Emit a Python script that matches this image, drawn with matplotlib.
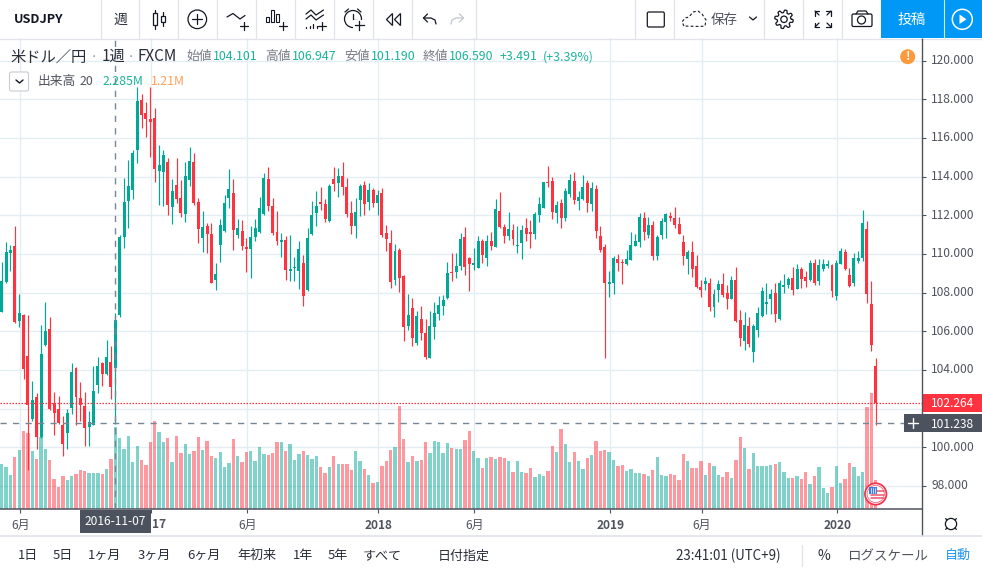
import numpy as np
import matplotlib
matplotlib.use('Agg')
import matplotlib.pyplot as plt
from matplotlib.patches import Rectangle, Circle, Polygon, FancyBboxPatch

plt.rcParams['font.family'] = ['Noto Sans CJK JP', 'DejaVu Sans']

opens = [107.02,108.57,110.07,110.41,106.55,106.85,104.72,101.45,102.62,100.55,
 105.3,106.12,102.28,101.98,101.16,100.76,102.05,104.1,102.55,102.14,
 101.02,101.17,103.24,104.36,103.79,104.41,104.101,106.85,110.9,112.76,
 113.28,115.4,117.97,117.29,116.97,117.03,114.31,114.26,114.76,112.45,
 113.57,112.9,112.07,113.83,114.76,112.69,110.83,111.45,111.03,108.66,
 110.47,111.19,112.9,113.16,110.98,111.19,110.36,110.26,110.88,111.14,
 112.07,113.88,112.48,111.14,110.62,110.72,109.12,109.28,109.12,109.53,
 108.14,111.02,112.12,112.67,112.57,111.69,113.86,113.66,114.02,113.45,
 112.1,111.43,112.78,113.55,112.67,113.29,112.62,113.14,111.07,110.55,
 108.64,110.19,108.84,106.26,107.19,105.38,106.62,105.9,104.6,106.21,
 106.88,107.29,107.71,109.05,109.05,109.36,110.86,109.78,109.41,109.26,
 110.66,109.78,110.66,110.34,112.21,111.38,110.91,111.22,110.4,110.55,
 111.33,111.12,111.02,112.0,112.36,113.71,113.76,112.1,112.62,111.84,
 113.09,113.76,112.72,112.83,113.66,112.57,113.34,110.91,110.34,108.43,
 108.48,109.72,109.57,109.47,109.67,110.4,110.6,111.84,110.97,111.5,
 109.9,110.98,111.66,111.97,111.86,111.55,110.62,109.74,110.1,109.38,
 108.29,108.45,108.5,107.26,108.14,108.45,107.98,107.67,108.66,106.59,
 105.5,106.28,104.93,106.07,106.79,107.41,107.67,107.98,106.64,108.29,
 108.4,108.76,108.19,109.22,108.81,108.66,109.53,108.62,109.22,109.36,
 109.43,107.83,109.5,110.09,108.91,108.47,109.64,109.81,111.29,107.41,
 104.21]

highs = [109.6,110.6,110.47,111.45,107.93,106.9,106.85,103.43,102.8,106.33,
 107.52,106.74,102.86,102.66,101.62,101.98,104.34,104.16,103.38,102.83,
 101.88,104.22,104.67,104.43,105.55,105.26,106.947,110.98,113.93,114.86,
 115.38,118.65,118.28,117.86,118.64,117.55,115.64,115.38,114.95,113.88,
 114.97,113.83,114.76,115.53,115.22,112.9,112.22,111.6,111.6,109.53,
 111.81,113.05,114.4,113.88,111.81,111.76,110.83,111.45,111.81,112.95,
 114.19,114.5,112.9,112.22,111.09,110.93,110.98,109.84,110.67,109.95,
 111.34,112.72,113.24,113.45,112.83,113.6,114.48,114.43,114.74,113.91,
 112.72,112.88,113.6,113.76,113.66,113.4,113.29,113.4,111.48,111.22,
 110.5,110.29,108.9,107.91,107.71,107.03,107.29,106.62,107.03,107.5,
 107.81,107.86,109.57,110.03,110.03,111.07,111.38,109.83,110.29,110.91,
 110.76,110.97,111.12,112.83,113.19,111.53,112.16,111.53,111.43,111.48,
 111.84,111.74,112.16,112.93,113.71,114.53,113.97,112.72,112.83,113.4,
 114.12,114.22,113.24,114.07,113.81,113.71,113.55,111.43,110.5,109.1,
 109.88,109.98,109.72,110.19,111.12,111.02,112.1,112.16,111.9,111.71,
 110.98,111.86,112.12,112.17,112.43,111.91,110.98,110.21,110.67,109.95,
 108.66,108.81,108.76,108.19,108.66,109.02,108.4,108.86,109.33,107.1,
 107.0,106.74,106.35,107.26,108.29,108.5,108.19,108.5,108.66,108.97,
 108.81,109.33,109.48,109.33,109.12,109.69,109.74,109.74,109.72,109.67,
 109.48,109.69,110.31,110.26,109.28,110.03,110.16,112.28,111.71,108.6,
 104.6]

lows = [107.0,108.48,109.09,106.45,106.24,103.53,98.8,101.34,99.9,100.47,
 105.24,101.93,100.64,101.2,99.52,99.93,101.72,101.17,101.36,100.07,
 100.07,101.17,102.81,103.17,103.74,102.5,101.19,106.71,110.28,111.34,
 112.86,114.72,116.53,116.07,115.03,113.74,112.55,112.48,112.02,111.57,
 112.62,111.93,111.67,113.52,112.53,110.57,110.1,110.05,108.52,108.14,
 109.59,111.14,112.38,110.2,110.83,110.2,109.07,108.76,110.67,111.09,
 112.02,112.22,110.98,110.45,109.84,108.66,108.6,108.6,108.19,107.28,
 108.09,110.97,111.43,112.26,111.64,111.64,113.24,112.93,113.03,111.9,
 111.02,110.81,111.95,112.0,112.26,112.41,112.0,110.88,110.14,108.22,
 108.38,108.02,105.48,106.05,105.22,105.28,105.53,104.55,104.6,105.59,
 106.57,106.83,107.66,108.59,108.74,109.16,108.9,108.07,109.16,109.26,
 109.52,109.36,110.19,110.34,111.33,110.55,110.71,110.45,110.03,109.72,
 110.66,110.29,110.76,111.64,112.36,113.45,111.79,111.59,111.33,111.69,
 112.93,112.57,112.26,112.78,112.16,112.21,110.81,110.09,104.6,107.76,
 107.91,109.1,108.43,109.41,109.67,110.4,110.34,110.71,110.81,109.69,
 109.69,110.78,110.83,111.71,111.34,111.03,109.43,108.97,108.81,108.24,
 107.78,108.14,107.05,106.74,107.52,107.78,107.16,107.67,106.48,105.24,
 105.03,105.19,104.41,105.7,106.74,106.9,106.9,106.48,106.59,107.98,
 108.24,107.88,108.19,108.24,108.29,108.6,108.4,108.4,109.12,109.28,
 107.79,107.62,109.48,109.17,108.29,108.34,109.55,109.64,107.47,104.98,
 101.16]

closes = [108.6,110.1,110.2,106.5,106.93,104.05,102.16,102.45,100.55,104.83,
 106.02,101.97,101.79,101.24,100.19,101.78,103.9,102.62,102.2,100.97,
 101.31,102.91,104.2,103.81,104.67,103.09,106.59,110.86,112.7,113.52,
 115.21,117.91,117.19,117.0,116.84,114.41,114.6,115.12,112.52,113.26,
 112.84,112.14,114.03,114.81,112.62,111.29,111.4,111.03,108.52,108.97,
 111.5,112.64,113.36,111.24,111.34,110.41,110.26,110.88,111.34,112.38,
 113.93,112.48,111.09,110.67,110.72,109.17,109.22,109.33,110.26,107.83,
 110.83,112.0,112.47,112.57,111.79,113.5,113.6,114.02,113.45,112.05,
 111.43,112.16,113.5,112.57,113.29,112.62,113.03,110.97,110.76,108.53,
 110.14,108.74,106.21,106.83,105.64,106.78,105.9,104.66,106.26,106.93,
 107.34,107.6,109.0,109.0,109.36,110.76,109.31,109.47,109.52,110.66,
 109.93,110.66,110.4,112.31,111.38,110.91,111.28,110.76,110.45,111.22,
 111.02,111.02,112.05,112.57,113.71,113.66,112.16,112.52,111.84,113.24,
 113.81,112.78,112.93,113.45,112.62,113.4,111.17,110.19,108.48,108.53,
 109.78,109.52,109.52,109.72,110.45,110.66,111.9,111.12,111.48,109.9,
 110.88,111.71,112.07,111.86,111.5,111.03,109.9,110.1,109.22,108.29,
 108.14,108.6,107.26,107.93,108.45,107.88,107.67,108.66,106.53,105.66,
 106.33,105.34,106.28,106.95,108.09,107.52,107.93,106.9,108.5,108.4,
 108.71,108.14,109.22,108.71,108.6,109.53,108.5,109.4,109.48,109.47,
 108.09,109.52,110.16,109.22,108.34,109.79,109.79,111.6,107.93,105.29,
 102.264]

volumes = [1.25,1.18,.95,1.45,1.64,2.17,2.11,1.61,1.39,2.01,
 1.67,1.36,.83,.61,.92,.81,.92,.97,1.08,1.06,
 1.0,1.0,1.0,.97,1.11,1.39,2.285,1.97,1.67,2.03,
 1.31,1.75,1.36,1.22,1.86,2.44,2.14,1.86,1.97,1.31,
 2.03,1.56,1.81,1.53,1.61,2.0,1.64,1.89,1.47,1.42,
 1.58,1.17,1.28,1.94,1.47,1.31,1.58,1.61,1.33,1.72,
 1.53,1.5,1.56,1.86,1.86,1.61,1.81,1.36,1.53,1.61,
 1.5,1.39,1.47,1.17,1.0,1.17,1.47,1.25,1.25,1.25,
 1.08,1.61,1.33,1.11,.94,.72,.75,1.19,1.33,1.64,
 1.72,2.86,1.94,1.31,1.47,1.33,1.36,1.86,1.56,1.89,
 1.86,1.56,1.83,1.69,1.67,1.67,1.92,2.17,1.61,1.42,
 1.14,1.42,1.44,1.39,1.44,1.42,1.33,1.03,1.33,1.03,
 1.0,1.14,.89,.97,.92,1.06,1.75,1.58,2.22,1.81,
 1.31,1.58,1.33,1.11,1.42,1.5,1.89,1.61,1.64,1.58,
 1.36,1.19,1.22,1.06,1.11,1.0,1.0,.97,.92,1.08,
 1.44,.94,.92,.97,.94,.81,1.53,1.33,1.14,1.14,
 1.33,.94,1.28,1.19,.94,.89,1.03,.86,1.36,2.0,
 1.69,1.11,1.56,1.19,1.19,1.19,1.22,1.25,1.31,1.03,
 .86,.86,.92,.83,1.03,.69,.92,1.17,.58,.44,
 .61,1.19,.72,.83,1.28,1.17,.92,1.03,2.83,3.23,
 .81]

x_tick_index = [4.26, 34.23, 56.2, 86.2, 108.15, 139.3, 160.2, 191.2]
x_tick_labels = ['6月', '', '6月', '2018', '6月', '2019', '6月', '2020']
bold_ticks = {'2018', '2019', '2020'}
price_ticks = [98, 100, 102, 104, 106, 108, 110, 112, 114, 116, 118, 120]
hidden_price_labels = {102}
last_price = 102.264
cross_price = 101.238
cross_index = 26

GREEN = '#00a896'
RED = '#ff3340'
GRID = '#e3edf4'
AXIS = '#50535e'
DARK = '#131722'
GRAY = '#787b86'
TEAL = '#1bb39c'
BLUE = '#0098f7'
SEP = '#e0e3eb'

W, H = 982, 574
PX_PRICE = 19.33      # pixels per price unit
PX_STEP = 4.37        # pixels per week
PX_VOL = 36.0         # pixels per million volume

fig = plt.figure(figsize=(W / 100, H / 100), dpi=100, facecolor='white')
ax = fig.add_axes([0, (H - 509) / H, 922 / W, 471 / H], zorder=1)
ax.set_xlim(-1.7 / PX_STEP, 920.3 / PX_STEP)
ymin = 120 - (509 - 60.6) / PX_PRICE
ax.set_ylim(ymin, 120 + (60.6 - 38) / PX_PRICE)

o, h, l, c = map(np.array, (opens, highs, lows, closes))
v = np.array(volumes)
k = np.arange(len(o))
up = c >= o
cols = np.where(up, GREEN, RED)

# grid
ax.set_axisbelow(True)
ax.set_yticks(price_ticks)
ax.set_yticklabels(['' if p in hidden_price_labels else '%.3f' % p for p in price_ticks])
ax.set_xticks(x_tick_index)
ax.set_xticklabels(x_tick_labels)
ax.grid(True, color=GRID, lw=1.0, zorder=0)
for s in ('top', 'left', 'right'):
    ax.spines[s].set_visible(False)
ax.spines['bottom'].set_color(AXIS)
ax.spines['bottom'].set_linewidth(1.1)
ax.yaxis.tick_right()
ax.tick_params(axis='y', length=3, width=0.8, color=AXIS, labelcolor=AXIS, labelsize=8.6, pad=3.8)
ax.tick_params(axis='x', length=3, width=0.8, color=AXIS, labelcolor=AXIS, labelsize=8.6, pad=4.2)
for t in ax.get_yticklabels():
    t.set_verticalalignment('center')
for t in ax.get_xticklabels():
    if t.get_text() in bold_ticks:
        t.set_fontweight('bold')

# volume, sharing the pane's bottom
ax.bar(k, v * PX_VOL / PX_PRICE, bottom=ymin, width=0.76, color=cols, alpha=0.5, lw=0, zorder=2)

# candles
ax.vlines(k, l, h, colors=cols, lw=0.85, zorder=3)
body = np.maximum(np.abs(c - o), 1.0 / PX_PRICE)
ax.bar(k, body, bottom=np.minimum(o, c), width=0.68, color=cols, lw=0, zorder=3)

# crosshair and last price line
ax.axhline(last_price, color=RED, lw=0.9, ls=(0, (1.2, 1.2)), zorder=4)
ax.axhline(cross_price, color='#758696', lw=1.0, ls=(0, (4.5, 4.5)), zorder=4)
ax.axvline(cross_index, color='#758696', lw=1.0, ls=(0, (4.5, 4.5)), zorder=4)

# interface layer in pixel coordinates
ui = fig.add_axes([0, 0, 1, 1], zorder=5)
ui.set_xlim(0, W)
ui.set_ylim(H, 0)
ui.axis('off')
ui.patch.set_alpha(0)


def T(x, y, s, size=9.4, color=DARK, ha='left', weight='normal'):
    ui.text(x, y + 0.8, s, fontsize=size, color=color, ha=ha, va='center', fontweight=weight)


def L(xs, ys, color=DARK, lw=0.9, **kw):
    ui.plot(xs, ys, color=color, lw=lw, solid_capstyle='round', **kw)


def plus(x, y, r=4, color=DARK, lw=0.9):
    L([x - r, x + r], [y, y], color, lw)
    L([x, x], [y - r, y + r], color, lw)


def ring(x, y, r, color=DARK, lw=0.9, fc='none', ls='-'):
    ui.add_patch(Circle((x, y), r, fc=fc, ec=color, lw=lw, ls=ls))


# toolbar separators
for x in [101.3, 139.3, 178.3, 217.3, 256.3, 295.3, 334.3, 373.3, 412.3, 475.7,
          635.3, 674.3, 764.3, 803.3, 842.3]:
    L([x, x], [0, 38], SEP, 0.9)
L([0, W], [38.5, 38.5], SEP, 0.9)
ui.add_patch(Rectangle((881, 0), 101, 38, fc=BLUE, ec='none'))
L([943.7, 943.7], [0, 38], '#cfe9fb', 0.8)

T(13.5, 19, 'USDJPY', 9.2, DARK, weight='bold')
T(120, 19, '週', 10, '#2a2e39', ha='center')

# candle icon
for cx, t, b, tw, bw in [(155.5, 12.5, 25, 10, 28.5), (163.5, 15.5, 22, 12, 25.5)]:
    ui.add_patch(Rectangle((cx - 2, t), 4, b - t, fc='white', ec=DARK, lw=0.9))
    L([cx, cx], [tw, t], DARK)
    L([cx, cx], [b, bw], DARK)
# compare
ring(197.3, 19.3, 9.3)
plus(197.3, 19.3, 5)
# line tool
L([227, 233, 240, 245], [17, 13.5, 19, 15.5])
plus(244, 26, 4)
# bars tool
for x0, top in [(266.5, 17), (271.5, 9.5), (276.5, 13.5)]:
    ui.add_patch(Rectangle((x0, top), 2.6, 21.5 - top, fc='white', ec=DARK, lw=0.8))
plus(283, 25.5, 4)
# indicators
L([306, 311, 316, 319, 323.5], [14, 10, 15, 13, 10])
L([306, 311, 316, 319, 323.5], [19, 15, 20, 18, 15])
for x0, t in [(306, 27), (310, 26), (313.5, 24), (317, 26)]:
    L([x0, x0], [t, 28], DARK, 0.9)
plus(322, 25.5, 4)
# alarm
ring(353, 19, 8.5)
L([353, 353, 357], [13.5, 20, 20])
L([345, 348.5], [12, 9])
L([361, 357.5], [12, 9])
ui.add_patch(Rectangle((353, 20), 14, 12, fc='white', ec='none', zorder=3))
ui.lines[-1].set_zorder(2)
ui.plot([355, 364], [25, 25], color=DARK, lw=0.9, zorder=4)
ui.plot([359.5, 359.5], [20.5, 29.5], color=DARK, lw=0.9, zorder=4)
# rewind
ui.add_patch(Polygon([[392.5, 13.5], [386.5, 19.5], [392.5, 25.5]], closed=True, fc='white', ec=DARK, lw=0.9))
ui.add_patch(Polygon([[400.5, 13.5], [394.5, 19.5], [400.5, 25.5]], closed=True, fc='white', ec=DARK, lw=0.9))
# undo and redo
L([427.5, 423.5, 427.5], [14, 18, 22], DARK)
L([423.5, 431, 435, 436], [18, 18, 20, 24], DARK)
L([459.5, 463.5, 459.5], [14, 18, 22], '#c3c6ce')
L([463.5, 456, 452, 451], [18, 18, 20, 24], '#c3c6ce')

# right part of the toolbar
ui.add_patch(FancyBboxPatch((647.3, 12), 17, 15, boxstyle='round,pad=0,rounding_size=1.5', fc='white', ec=DARK, lw=0.9))
cx = np.array([684, 682, 685, 689, 693, 698, 702, 706, 705, 700, 684])
cy = np.array([26, 22, 18, 17, 12, 11, 14, 20, 26, 26.5, 26])
ui.plot(cx, cy, color=DARK, lw=0.8, ls=(0, (2.5, 2)))
T(710.5, 19, '保存', 9.7, '#50535e')
L([749.5, 753, 756.5], [17, 20, 17], DARK)
# gear
ang = np.linspace(0, 2 * np.pi, 97)
rad = 8.0 + 1.3 * np.tanh(3 * np.sin(8 * ang))
L(784 + rad * np.cos(ang), 19.3 + rad * np.sin(ang), DARK, 0.9)
ring(784, 19.3, 3.2)
# fullscreen
for sx, sy in [(-1, -1), (1, -1), (-1, 1), (1, 1)]:
    x0, y0 = 823 + sx * 8, 19 + sy * 8
    L([x0 - sx * 4.5, x0, x0], [y0, y0, y0 - sy * 4.5])
    L([x0, x0 - sx * 4], [y0, y0 - sy * 4])
# camera
ui.add_patch(FancyBboxPatch((852, 14), 20, 12.5, boxstyle='round,pad=0,rounding_size=1.5', fc='white', ec=DARK, lw=0.9))
L([856, 858, 866, 868], [14, 11, 11, 14])
ring(861.5, 20, 4)
T(912, 19, '投稿', 10.2, 'white', ha='center')
ring(962.3, 19.3, 10, 'white', 1.1)
ui.add_patch(Polygon([[959.5, 14.5], [959.5, 24], [966.5, 19.3]], closed=True, fc='white', ec='none'))

# legend rows
T(10.5, 56, '米ドル／円', 11, '#2a2e39')
T(94, 56, '·', 8, GRAY, ha='center')
T(101.5, 56, '1週', 11, '#2a2e39')
T(131, 56, '·', 8, GRAY, ha='center')
T(138, 56, 'FXCM', 11, '#2a2e39')
T(186.5, 56, '始値', 9.2, GRAY)
T(212.7, 56, '104.101', 8.9, TEAL)
T(265.5, 56, '高値', 9.2, GRAY)
T(291.7, 56, '106.947', 8.9, TEAL)
T(344, 56, '安値', 9.2, GRAY)
T(370.7, 56, '101.190', 8.9, TEAL)
T(422.5, 56, '終値', 9.2, GRAY)
T(449, 56, '106.590', 8.9, TEAL)
T(500, 56, '+3.491', 8.9, TEAL)
T(543.3, 56, '(+3.39%)', 8.9, TEAL)
ui.add_patch(FancyBboxPatch((9.5, 72), 19, 19, boxstyle='round,pad=0,rounding_size=2', fc='white', ec='#c9cbd1', lw=0.8))
L([16, 19.5, 23], [80, 83, 80], DARK, 1.0)
T(37.5, 81, '出来高', 9.2, '#50535e')
T(80, 81, '20', 8.9, '#50535e')
T(103, 81, '2.285M', 8.9, TEAL)
T(151, 81, '1.21M', 8.9, '#ff9f5a')

# alert badge
ring(907.7, 56.7, 7.5, '#ff9a3c', 0, fc='#ff9a3c')
T(907.7, 55.7, '!', 8.5, 'white', ha='center', weight='bold')

# axes frame around the chart
ui.plot([922.3, 922.3], [38, 536], color=AXIS, lw=1.0, solid_capstyle='butt')
ui.plot([0, W], [536, 536], color=SEP, lw=1.2, solid_capstyle='butt')

# price labels on the axis
ui.add_patch(Rectangle((923, 394), 59, 18, fc=RED, ec='none'))
T(931, 403, '%.3f' % last_price, 8.6, 'white')
ui.add_patch(Rectangle((904, 414), 78, 18, fc='#4c525e', ec='none'))
plus(913, 423.3, 5, 'white', 1.0)
T(931, 423.3, '%.3f' % cross_price, 8.6, 'white')
ui.add_patch(Rectangle((80, 510), 71, 22.5, fc='#4c525e', ec='none'))
T(115.7, 521, '2016-11-07', 8.6, 'white', ha='center')
T(151.6, 524, '17', 8.6, AXIS, weight='bold')

# economic event flag
ring(875.7, 494, 10.7, '#f2364f', 1.3, fc='white')
ring(875.7, 494, 8.6, '#f2667c', 0.6, fc='white')
for yy in (491, 494.5, 498):
    L([871, 884], [yy, yy], '#f0526a', 1.1)
ui.add_patch(Rectangle((869, 486.5), 8, 7, fc='#3f7fd9', ec='none', zorder=3))
for xx in (871, 873, 875):
    L([xx, xx], [488, 493], 'white', 0.5, zorder=4)

# sun icon
ring(951, 524, 5.6)
for a in np.arange(0, 2 * np.pi, np.pi / 2) + np.pi / 4:
    L([951 + 5.6 * np.cos(a), 951 + 7.6 * np.cos(a)], [524 + 5.6 * np.sin(a), 524 + 7.6 * np.sin(a)], DARK, 0.9)

# bottom bar
for x, s in [(17.7, '1日'), (52.7, '5日'), (88, '1ヶ月'), (138, '3ヶ月'), (187, '6ヶ月'), (237, '年初来'),
             (293, '1年'), (328, '5年'), (363, 'すべて'), (438, '日付指定')]:
    T(x, 555, s, 9.4, '#2a2e39')
T(676, 555.5, '23:41:01 (UTC+9)', 9.6, '#2a2e39')
L([801.7, 801.7], [545, 566], SEP, 0.9)
T(818, 555.5, '%', 10, '#2a2e39')
T(846.7, 555, 'ログスケール', 9.7, '#50535e')
T(945, 555, '自動', 9.4, '#2196f3')

fig.savefig('out.png', dpi=100, facecolor='white')
